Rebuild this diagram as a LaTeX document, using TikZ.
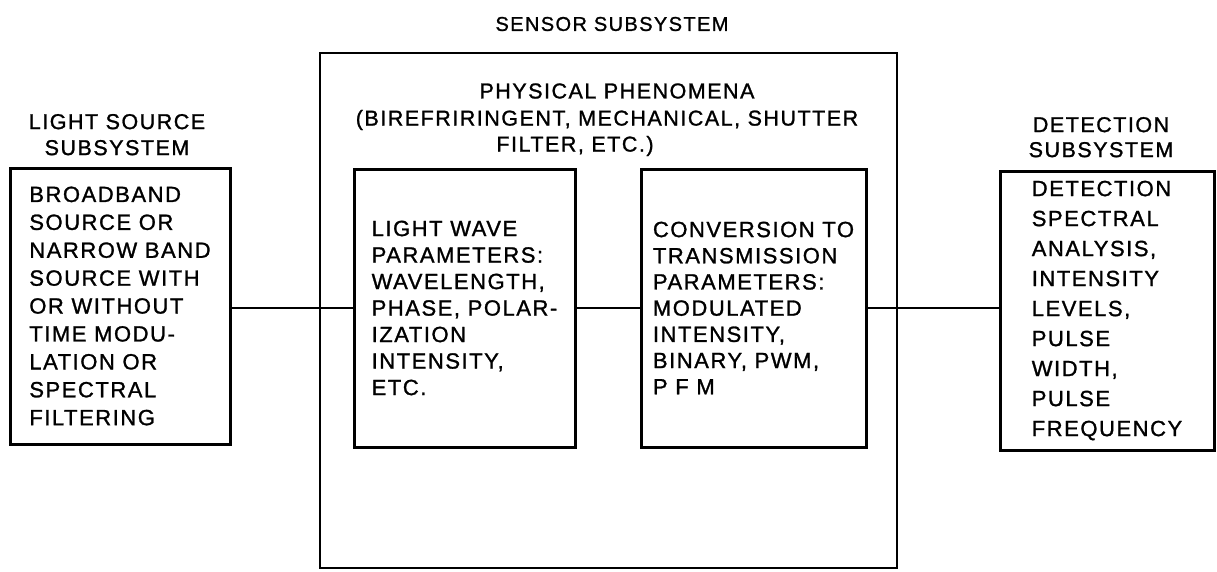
\documentclass[tikz,border=0pt]{standalone}
\usepackage{fontspec}
\setmainfont{Liberation Sans}[LetterSpace=7, FakeBold=1.2]
\usetikzlibrary{positioning}

\newcommand{\boxfont}[1]{\fontsize{22}{#1}\selectfont}
\newcommand{\capfont}{\fontsize{21.5}{26}\selectfont}
\tikzset{
  subbox/.style={draw, line width=3pt, align=left, inner sep=0pt, font={\boxfont{#1}}},
  caption/.style={align=center, inner sep=0pt, font=\capfont},
  link/.style={line width=2.5pt},
}

\begin{document}
\begin{tikzpicture}[x=1pt, y=-1pt]
    \useasboundingbox (0,0) rectangle (1217,571);
    % sensor subsystem frame
    \node[draw, line width=2pt, minimum width=577pt, minimum height=515pt] (sensor) at (608.5,310.5) {};
    \node[caption, font=\fontsize{20}{24}\selectfont] (sensortitle) at (612,24) {SENSOR SUBSYSTEM};
    \node[caption] (phen) at (617,91) {PHYSICAL PHENOMENA};
    \node[caption] (phenlist) at (607,120) {(BIREFRIRINGENT, MECHANICAL, SHUTTER};
    \node[caption] (phenmore) at (575,146) {FILTER, ETC.)};

    % boxes
    \node[subbox=27.9, minimum width=220pt, minimum height=276pt] (lsrc) at (120,306)
        {BROADBAND\\SOURCE OR\\NARROW BAND\\SOURCE WITH\\OR WITHOUT\\TIME MODU-\\LATION OR\\SPECTRAL\\FILTERING};
    \node[subbox=26.5, minimum width=221pt, minimum height=278pt] (wave) at (464.5,308)
        {LIGHT WAVE\\PARAMETERS:\\WAVELENGTH,\\PHASE, POLAR-\\IZATION\\INTENSITY,\\ETC.};
    \node[subbox=26.2, minimum width=225pt, minimum height=278pt] (conv) at (753.5,308)
        {CONVERSION TO\\TRANSMISSION\\PARAMETERS:\\MODULATED\\INTENSITY,\\BINARY, PWM,\\P F M};
    \node[subbox=30, minimum width=214pt, minimum height=279pt] (detect) at (1107,310.5)
        {DETECTION\\SPECTRAL\\ANALYSIS,\\INTENSITY\\LEVELS,\\PULSE\\WIDTH,\\PULSE\\FREQUENCY};

    \node[caption, above=11pt of lsrc, xshift=-3pt] (lsrctitle) {LIGHT SOURCE\\SUBSYSTEM};
    \node[caption, above=12pt of detect, xshift=-6pt, font=\fontsize{21.5}{25}\selectfont] (detecttitle) {DETECTION\\SUBSYSTEM};

    % connections
    \draw[link] (lsrc.east |- wave.west) -- (wave.west);
    \draw[link] (wave.east) -- (conv.west);
    \draw[link] (conv.east) -- (conv.east -| detect.west);
\end{tikzpicture}
\end{document}
